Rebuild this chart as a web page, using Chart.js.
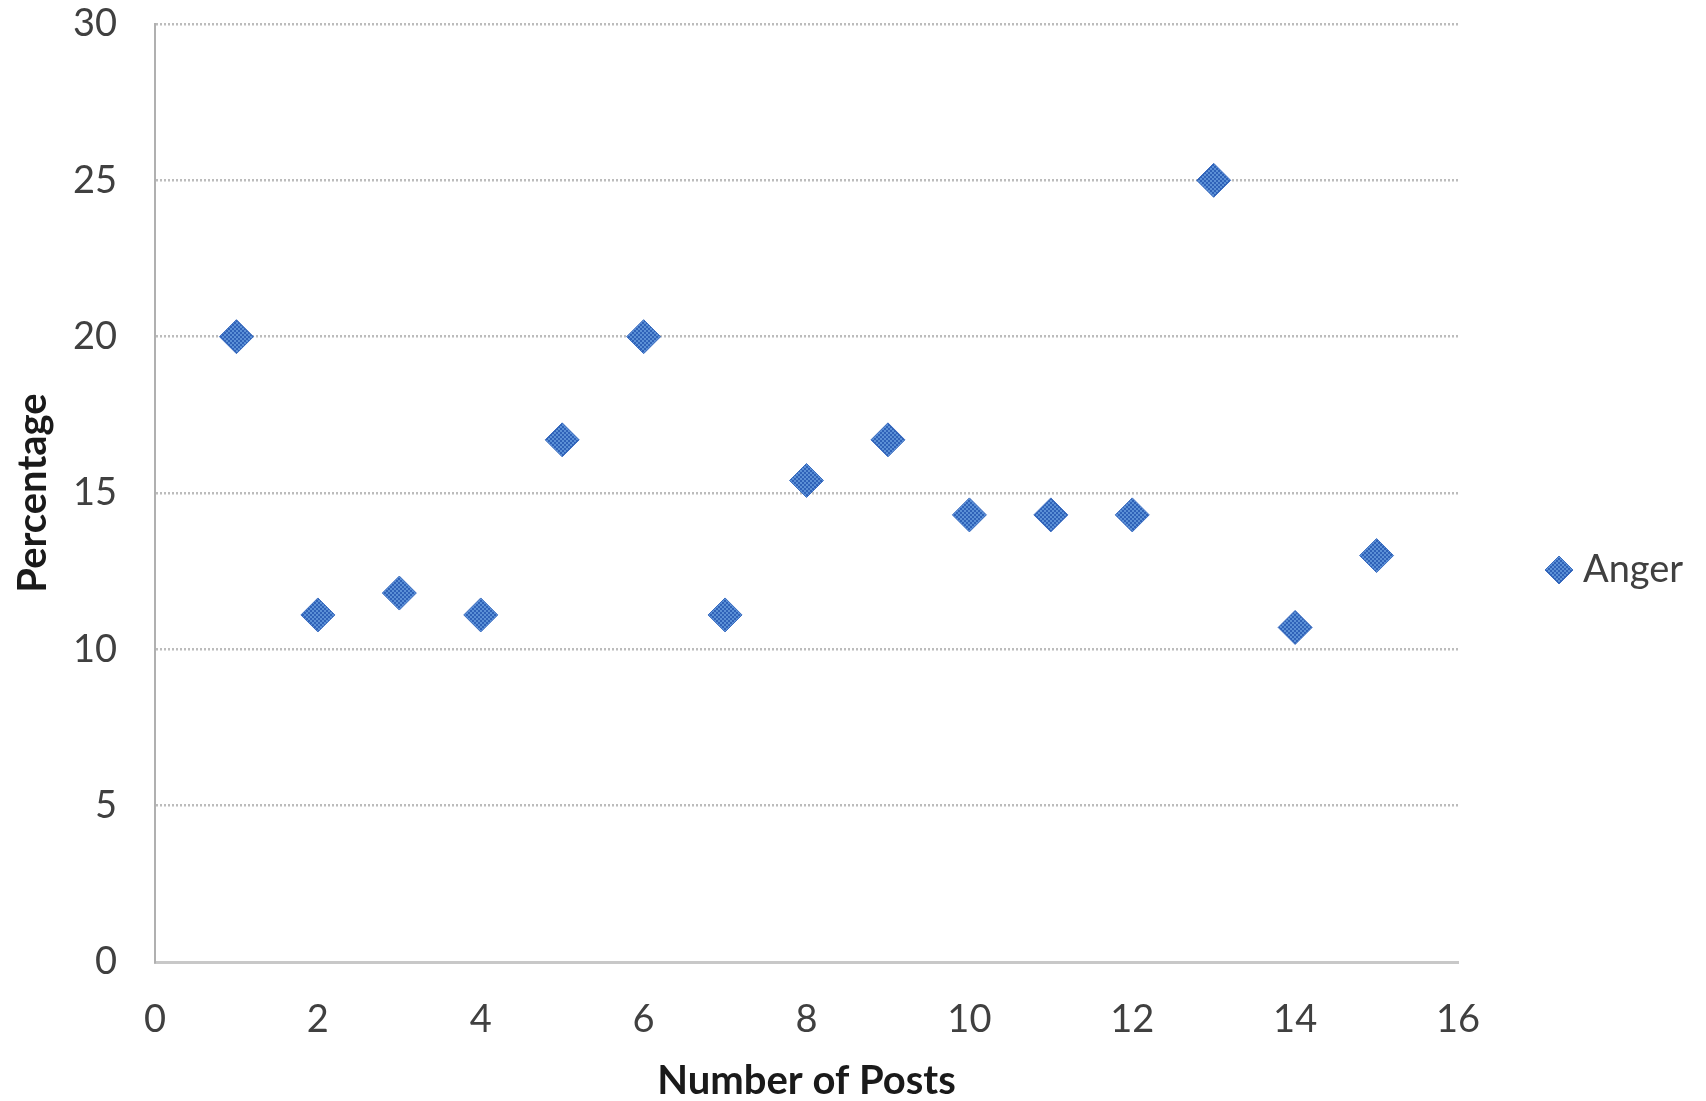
<!DOCTYPE html>
<html>
<head>
<meta charset="utf-8">
<script src="https://cdn.jsdelivr.net/npm/chart.js@4.4.1/dist/chart.umd.min.js"></script>
<style>
html,body{margin:0;padding:0;background:#fff;}
#wrap{width:1706px;height:1101px;}
</style>
</head>
<body>
<div id="wrap"><canvas id="c" width="1706" height="1101"></canvas></div>
<script>
const seriesName = "Anger";
const posts = [1, 2, 3, 4, 5, 6, 7, 8, 9, 10, 11, 12, 13, 14, 15];
const percentages = [20, 11.1, 11.8, 11.1, 16.7, 20, 11.1, 15.4, 16.7, 14.3, 14.3, 14.3, 25, 10.7, 13.0];
const xTitle = "Number of Posts";
const yTitle = "Percentage";

// checkered fill pattern for markers
const pc = document.createElement('canvas');
pc.width = 4; pc.height = 4;
const pctx = pc.getContext('2d');
pctx.fillStyle = '#5B90D6'; pctx.fillRect(0,0,4,4);
pctx.fillStyle = '#2F62B8'; pctx.fillRect(0,0,2,2); pctx.fillRect(2,2,2,2);
const pattern = pctx.createPattern(pc, 'repeat');

const customLegend = {
  id: 'customLegend',
  afterDraw(chart) {
    const ctx = chart.ctx;
    const ds = chart.data.datasets[0];
    ctx.save();
    ctx.fillStyle = pattern; ctx.strokeStyle = '#3A6CC0'; ctx.lineWidth = 1;
    ctx.beginPath();
    ctx.moveTo(1559, 556); ctx.lineTo(1573, 570); ctx.lineTo(1559, 584); ctx.lineTo(1545, 570); ctx.closePath();
    ctx.fill(); ctx.stroke();
    ctx.fillStyle = '#404040';
    ctx.font = '38px Lato';
    ctx.textBaseline = 'middle';
    ctx.textAlign = 'left';
    ctx.fillText(ds.label, 1583, 570);
    ctx.restore();
  }
};

new Chart(document.getElementById('c'), {
  type: 'scatter',
  data: {
    datasets: [{
      label: seriesName,
      data: posts.map((x, i) => ({x: x, y: percentages[i]})),
      pointStyle: 'rectRot',
      pointRadius: 17,
      pointHoverRadius: 17,
      backgroundColor: pattern,
      borderColor: '#3A6CC0',
      borderWidth: 1
    }]
  },
  options: {
    responsive: false,
    animation: false,
    events: [],
    layout: {padding: {left: 0, right: 248, top: 24, bottom: 0}},
    plugins: {legend: {display: false}, tooltip: {enabled: false}},
    scales: {
      x: {
        type: 'linear',
        min: 0, max: 16,
        ticks: {stepSize: 2, color: '#404040', font: {family: 'Lato', size: 38}, padding: 35},
        grid: {display: false, drawTicks: false},
        border: {display: true, color: '#c8c8c8', width: 3},
        title: {display: true, text: xTitle, color: '#1a1a1a', font: {family: 'Lato', size: 40, weight: 'bold', lineHeight: 1}, padding: {top: 0, bottom: 0}},
        afterFit(s) { s.height = 139; s.paddingLeft = 0; s.paddingRight = 0; }
      },
      y: {
        min: 0, max: 30,
        ticks: {stepSize: 5, color: '#404040', font: {family: 'Lato', size: 38}, padding: 38},
        grid: {color: '#bcbcbc', lineWidth: 2.5, drawTicks: false},
        border: {display: true, color: '#b0b0b0', width: 2, dash: [2, 2]},
        title: {display: true, text: yTitle, color: '#1a1a1a', font: {family: 'Lato', size: 40, weight: 'bold', lineHeight: 1}, padding: {top: 13, bottom: 0}},
        afterFit(s) { s.width = 155; s.paddingTop = 0; s.paddingBottom = 0; }
      }
    }
  },
  plugins: [customLegend]
});
</script>
</body>
</html>
